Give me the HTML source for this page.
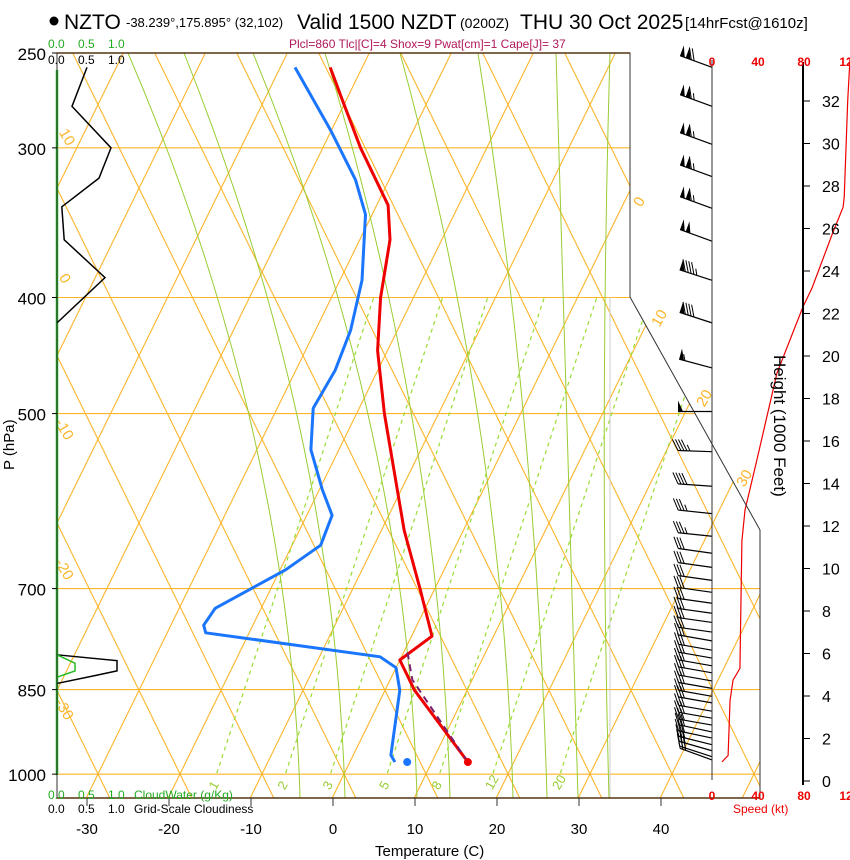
<!DOCTYPE html>
<html><head><meta charset="utf-8"><style>
html,body{margin:0;padding:0;background:#fff;}
svg{display:block;font-family:"Liberation Sans",sans-serif;}
</style></head><body>
<svg id="chart" width="850" height="860" viewBox="0 0 850 860" xmlns="http://www.w3.org/2000/svg">
<defs><clipPath id="plotclip"><polygon points="57,53 630,53 630,297 760,530 760,798 57,798"/></clipPath></defs>
<g>
<circle cx="54" cy="21" r="4.5" fill="#000"/>
<text x="64" y="29" font-size="21">NZTO</text>
<text x="126" y="27" font-size="13">-38.239°,175.895° (32,102)</text>
<text x="297" y="29" font-size="21">Valid 1500 NZDT</text>
<text x="460" y="28" font-size="14">(0200Z)</text>
<text x="520" y="29" font-size="21">THU 30 Oct 2025</text>
<text x="685" y="28" font-size="15">[14hrFcst@1610z]</text>
</g>
<text x="289" y="48" font-size="12" fill="#b0185a">Plcl=860 Tlc|[C]=4 Shox=9 Pwat[cm]=1 Cape[J]= 37</text>
<g id="grid" clip-path="url(#plotclip)"></g>
<g id="series"></g>
<g id="axes"></g>
<g font-family="Liberation Sans, sans-serif">
<text x="48" y="48" font-size="12" fill="#22aa22">0.0</text><text x="78" y="48" font-size="12" fill="#22aa22">0.5</text><text x="108" y="48" font-size="12" fill="#22aa22">1.0</text>
<text x="48" y="64" font-size="12">0.0</text><text x="78" y="64" font-size="12">0.5</text><text x="108" y="64" font-size="12">1.0</text>
<text x="48" y="799" font-size="12" fill="#22aa22">0.0</text><text x="78" y="799" font-size="12" fill="#22aa22">0.5</text><text x="108" y="799" font-size="12" fill="#22aa22">1.0</text>
<text x="134" y="799" font-size="12" fill="#22aa22">CloudWater (g/Kg)</text>
<text x="48" y="813" font-size="12">0.0</text><text x="78" y="813" font-size="12">0.5</text><text x="108" y="813" font-size="12">1.0</text>
<text x="134" y="813" font-size="12">Grid-Scale Cloudiness</text>
<text x="375" y="856" font-size="15">Temperature (C)</text>
<text x="0" y="0" font-size="15" transform="translate(14,470) rotate(-90)">P (hPa)</text>
<text x="0" y="0" font-size="17" transform="translate(774,355) rotate(90)">Height (1000 Feet)</text>
<text x="733" y="813" font-size="12" fill="#ee0000">Speed (kt)</text>
</g>
</svg>
<script>
// ---- data ----
const tempP = [977,851,803,767,700,626,500,443,400,358,335,300,274,257];
const tempT = [14.3,3.5,-0.1,2.4,-1.9,-7.3,-16.7,-21.3,-24.1,-26.4,-28.7,-35.5,-40.5,-44.0];
const dewP = [977,964,851,815,798,762,751,727,675,644,608,579,536,495,460,426,387,341,319,290,257];
const dewT = [5.4,4.5,1.7,-0.1,-2.7,-25.4,-26.1,-25.7,-19.4,-16.6,-17.0,-19.7,-23.5,-25.7,-25.3,-25.8,-27.4,-30.9,-34.2,-40.2,-48.3];
const parcelP = [977,834,788];
const parcelT = [14.3,2.6,0.2];
const sfcT = 14.3, sfcTd = 6.9, sfcP = 977;
const pressureTicks = [250,300,400,500,700,850,1000];
const tempTicks = [-30,-20,-10,0,10,20,30,40];
const mixRatios = [1,2,3,5,8,12,20];
const mixBaseT = [-15.6,-7.2,-1.7,5.2,11.6,18.1,26.3];
const windP = [257,277,298,317,337,359,387,420,458,498,538,575,606,633,654,672,689,705,720,734,747,761,774,788,800,812,823,836,848,861,872,886,898,910,922,933,945,956,967,973];
const windDir = [290,290,290,290,290,290,288,288,285,270,272,274,276,276,278,278,278,278,278,278,278,278,280,280,280,280,280,280,280,280,280,280,280,280,282,282,284,286,288,290];
const windSpd = [120,115,115,115,115,100,95,90,55,50,45,40,35,35,30,30,30,30,30,30,30,30,30,30,30,30,30,30,30,30,30,30,30,30,30,30,30,30,30,30];
const spdH = [0.9,1.2,3.8,4.75,5.3,8.5,11.3,12.75,15.1,19.2,22.3,23.2,25.8,27,27.5,32,34];
const spdV = [8.7,14,15.7,18.3,24.3,25.2,26,28.7,39,56.5,79,87,105,114,115,118,120];
const cloudP = [257,277,300,318,336,358,385,420];
const cloudFrac = [0.5,0.25,0.9,0.7,0.08,0.12,0.8,0.0];
const lowCloudP = [795,804,820,828,840];
const lowCloudFrac = [0,1.0,1.0,0.6,0];
const cwP = [795,808,820,830];
const cwVal = [0,0.3,0.3,0];
const heightTicks = [0,2,4,6,8,10,12,14,16,18,20,22,24,26,28,30,32];
// ---- axis functions ----
const yP = p => 53 + 520.2*Math.log(p/250);
const xT = (T,p) => 333 + 8.2*T + 0.49*(798 - yP(p));
const yH = h => 781 - 21.25*h;
const xS = s => 712 + 1.15*s;
const xCloud = f => 57 + 60*f;
const NS='http://www.w3.org/2000/svg';
function mk(tag, attrs, parent){const e=document.createElementNS(NS,tag);for(const k in attrs)e.setAttribute(k,attrs[k]);parent.appendChild(e);return e;}
const grid=document.getElementById('grid'), series=document.getElementById('series'), axes=document.getElementById('axes');
const OR='#fbb52a';
for(let k=-14;k<14;k++){
  const x0=98+82*k;
  let l=mk('line',{x1:x0+0.49*(774-800),y1:800,x2:x0+0.49*(774-40),y2:40,stroke:OR,'stroke-width':1.1},grid);
  
  
  let a=mk('line',{x1:x0-0.49*(774-800),y1:800,x2:x0-0.49*(774-40),y2:40,stroke:OR,'stroke-width':1.1},grid);
  
  
}
pressureTicks.forEach(p=>{
  let l=mk('line',{x1:57,x2:760,y1:yP(p),y2:yP(p),stroke:OR,'stroke-width':1.1},grid);
  
  
});
const maTop=[128,184,253,325,400,478,556,610];
const maBot=[300,345,417,450,513,547,578,609];
maTop.forEach((t,i)=>{
  const b=maBot[i];
  let m=mk('path',{d:`M${t},53 Q${b-10},${430} ${b},798`,fill:'none',stroke:'#99cc33','stroke-width':1},grid);
  
  
});
mixRatios.forEach((w,i)=>{
  const xb=xT(mixBaseT[i],1000), yb=yP(1000)-1;
  const yt=yP(400);
  let l=mk('line',{x1:xb,y1:yb,x2:xb+0.33*(yb-yt),y2:yt,stroke:'#99dd33','stroke-width':1.2,'stroke-dasharray':'4,4'},grid);
  
  
  let t=mk('text',{x:xb-6,y:790,'font-size':13,fill:'#99cc33',transform:`rotate(-60 ${xb-3} 786)`},series);
  t.textContent=w;
  
  
});
mk('line',{x1:610,x2:610,y1:297,y2:798,stroke:'#ccc','stroke-width':1},grid);
[['10',60,140],['0',60,285],['-10',56,430],['-20',56,570],['-30',56,710],['0',634,205],['10',652,325],['20',697,405],['30',737,485]].forEach(a=>{
  let t=mk('text',{x:a[1],y:a[2],'font-size':15,fill:OR,transform:`rotate(${a[1]>600?-60:60} ${a[1]+6} ${a[2]-5})`},series);
  t.textContent=a[0];
  
  
});
function poly(P,T,color,w,name,dash){
  const pts=P.map((p,i)=>xT(T[i],p).toFixed(1)+','+yP(p).toFixed(1)).join(' ');
  const e=mk('polyline',{points:pts,fill:'none',stroke:color,'stroke-width':w,'stroke-linejoin':'round'},series);
  if(dash)e.setAttribute('stroke-dasharray',dash);
  
  
}
poly(dewP,dewT,'#1a75ff',3,'dewpoint-line');
poly(tempP,tempT,'#ee0000',3,'temperature-line');
poly(parcelP,parcelT,'#7a1f6e',2,'parcel-path','7,5');
let c1=mk('circle',{cx:xT(sfcT,sfcP),cy:yP(sfcP),r:4,fill:'#ee0000'},series);


let c2=mk('circle',{cx:xT(sfcTd,sfcP),cy:yP(sfcP),r:4,fill:'#1a75ff'},series);


mk('line',{x1:57,x2:57,y1:70,y2:775,stroke:'#22bb22','stroke-width':2.5},series);
let cp=mk('polyline',{points:cloudP.map((p,i)=>xCloud(cloudFrac[i])+','+yP(p)).join(' '),fill:'none',stroke:'#000','stroke-width':1.5},series);


let lc=mk('polyline',{points:lowCloudP.map((p,i)=>xCloud(lowCloudFrac[i])+','+yP(p)).join(' '),fill:'none',stroke:'#000','stroke-width':1.5},series);


let cw=mk('polyline',{points:cwP.map((p,i)=>xCloud(cwVal[i])+','+yP(p)).join(' '),fill:'none',stroke:'#22bb22','stroke-width':1.5},series);


mk('polyline',{points:'57,798 57,53 630,53 630,297 760,530 760,798',fill:'none',stroke:'#333','stroke-width':1},axes);
mk('line',{x1:57,x2:760,y1:798,y2:798,stroke:'#553311','stroke-width':1.5},axes);
mk('line',{x1:57,x2:630,y1:53,y2:53,stroke:'#553311','stroke-width':1.5},axes);
pressureTicks.forEach(p=>{
  mk('line',{x1:52,x2:57,y1:yP(p),y2:yP(p),stroke:'#000'},axes);
  let t=mk('text',{x:46,y:yP(p)+7,'font-size':17,'text-anchor':'end'},axes);
  t.textContent=p;
  
  
});
tempTicks.forEach(T=>{
  const x=333+8.2*T;
  mk('line',{x1:x,x2:x,y1:798,y2:806,stroke:'#333'},axes);
  let t=mk('text',{x:x,y:834,'font-size':15,'text-anchor':'middle'},axes);
  t.textContent=T;
  
  
});
mk('line',{x1:712,x2:712,y1:60,y2:780,stroke:'#333','stroke-width':1},axes);
windP.forEach((p,i)=>{
  const y=yP(p), d=windDir[i]*Math.PI/180;
  const ux=Math.sin(d), uy=-Math.cos(d), L=34;
  const ex=712+ux*L, ey=y+uy*L;
  const g=mk('g',{},series);
  
  
  mk('line',{x1:712,y1:y,x2:ex,y2:ey,stroke:'#000','stroke-width':1.2},g);
  let px=-uy, py=ux; if(py>0){px=-px;py=-py;}
  let s=windSpd[i], pos=0;
  const at=k=>[ex-ux*k, ey-uy*k];
  while(s>=50){const a=at(pos),b=at(pos+5);
    mk('polygon',{points:`${a[0]},${a[1]} ${b[0]},${b[1]} ${a[0]+px*11},${a[1]+py*11}`,fill:'#000'},g);pos+=6;s-=50;}
  while(s>=10){const a=at(pos);mk('line',{x1:a[0],y1:a[1],x2:a[0]+px*11+ux*6,y2:a[1]+py*11+uy*6,stroke:'#000','stroke-width':1},g);pos+=3;s-=10;}
  if(s>=5){const a=at(pos);mk('line',{x1:a[0],y1:a[1],x2:a[0]+px*6+ux*3,y2:a[1]+py*6+uy*3,stroke:'#000','stroke-width':1},g);}
});
mk('line',{x1:803,x2:803,y1:62,y2:785,stroke:'#000','stroke-width':2},axes);
heightTicks.forEach(h=>{
  mk('line',{x1:803,x2:810,y1:yH(h),y2:yH(h),stroke:'#000'},axes);
  let t=mk('text',{x:822,y:yH(h)+6,'font-size':16},axes);
  t.textContent=h;
  
  
});
let sp=mk('polyline',{points:spdH.map((h,i)=>xS(spdV[i])+','+yH(h)).join(' '),fill:'none',stroke:'#ee0000','stroke-width':1.2},series);


[['0',712],['40',758],['80',804],['12',846]].forEach(a=>{
  [66,800].forEach(yy=>{
    let t=mk('text',{x:a[1],y:yy,'font-size':12,'font-weight':'bold',fill:'#ee0000','text-anchor':'middle'},axes);
    t.textContent=a[0];
    
    
  });
});
</script>
</body></html>
